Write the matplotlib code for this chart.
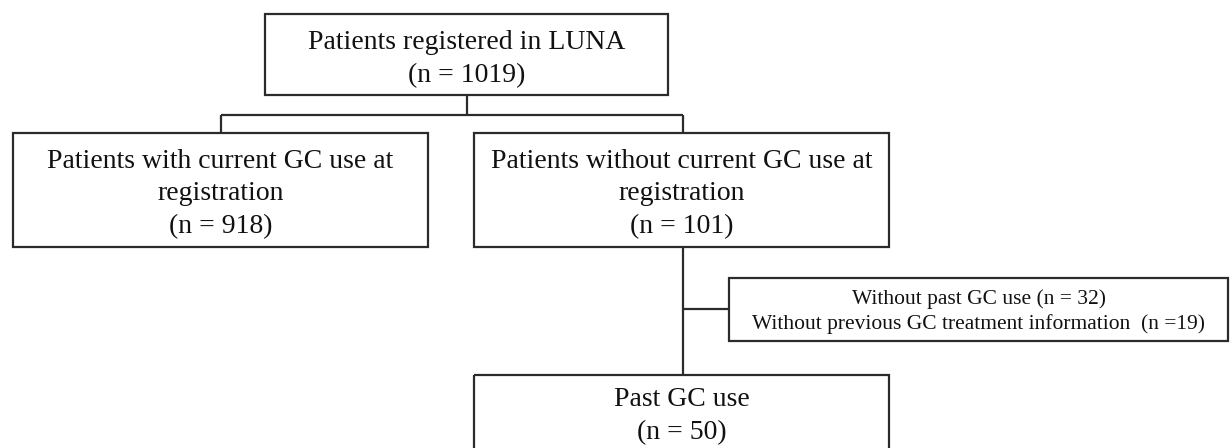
import matplotlib
matplotlib.use("Agg")
import matplotlib.pyplot as plt
from matplotlib.patches import Rectangle

# ---- content ----
top_label = ["Patients registered in LUNA", "(n = 1019)"]
left_label = ["Patients with current GC use at", "registration", "(n = 918)"]
right_label = ["Patients without current GC use at", "registration", "(n = 101)"]
excl_label = ["Without past GC use (n = 32)",
              "Without previous GC treatment information  (n =19)"]
bottom_label = ["Past GC use", "(n = 50)"]

# ---- layout (pixel coordinates: x0, y0, x1, y1) ----
W, H = 1230, 448
boxes = {
    "top": (265, 14, 668, 95),
    "left": (13, 133, 428, 247),
    "right": (474, 133, 889, 247),
    "excl": (729, 278, 1228, 341),
    "bottom": (474, 375, 889, 470),
}
edge = "#2b2b2b"
lw = 1.6
font = ["Liberation Serif", "DejaVu Serif"]

fig = plt.figure(figsize=(W / 100, H / 100), dpi=100)
ax = fig.add_axes([0, 0, 1, 1])
ax.set_xlim(0, W)
ax.set_ylim(H, 0)
ax.axis("off")


def draw_box(key, lines, size, ls, cy=None):
    x0, y0, x1, y1 = boxes[key]
    ax.add_patch(Rectangle((x0, y0), x1 - x0, y1 - y0, fill=False,
                           edgecolor=edge, linewidth=lw, clip_on=False))
    if cy is None:
        cy = (y0 + y1) / 2
    ax.text((x0 + x1) / 2, cy, "\n".join(lines), ha="center", va="center",
            fontsize=size, family=font, color="#111111", linespacing=ls,
            multialignment="center")


draw_box("top", top_label, 20, 1.4, cy=59)
draw_box("left", left_label, 20, 1.38, cy=194)
draw_box("right", right_label, 20, 1.38, cy=194)
draw_box("excl", excl_label, 15.5, 1.34, cy=312)
draw_box("bottom", bottom_label, 20, 1.4, cy=416)

# connectors
def line(xs, ys):
    ax.plot(xs, ys, color=edge, linewidth=lw, solid_capstyle="butt")

tcx = (boxes["top"][0] + boxes["top"][2]) / 2
lcx = (boxes["left"][0] + boxes["left"][2]) / 2
rcx = 683
split_y = 115
line([tcx, tcx], [boxes["top"][3], split_y])
line([lcx, rcx], [split_y, split_y])
line([lcx, lcx], [split_y, boxes["left"][1]])
line([rcx, rcx], [split_y, boxes["right"][1]])
line([rcx, rcx], [boxes["right"][3], boxes["bottom"][1]])
ey = (boxes["excl"][1] + boxes["excl"][3]) / 2
line([rcx, boxes["excl"][0]], [ey, ey])

fig.savefig("out.png", dpi=100, facecolor="white")
